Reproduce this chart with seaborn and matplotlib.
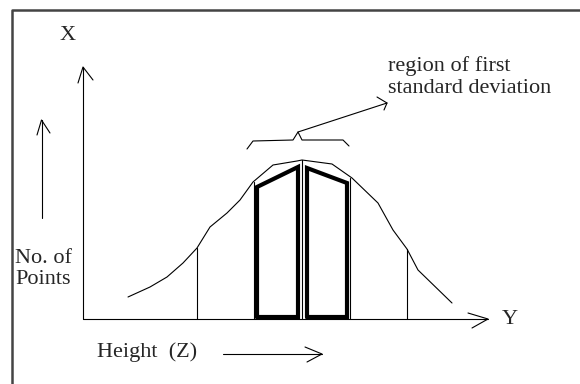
import matplotlib
matplotlib.use("Agg")
import matplotlib.pyplot as plt
import seaborn as sns

# ---- data (diagram coordinates, pixels) ----
curve_x = [128, 150, 167, 183, 197, 210, 227, 240, 253, 273, 297, 302, 332, 352, 378, 393, 407, 418, 452]
curve_y = [297, 287, 277, 263, 248, 227, 213, 200, 182, 165, 161, 160, 164, 178, 203, 230, 249, 270, 303]

drop_x = [197, 254, 302, 350, 407]
drop_top = [248, 182, 160, 178, 249]
axis_base = 319

left_bar_x = [257, 257, 298, 298, 257]
left_bar_y = [317, 187, 167, 317, 317]
right_bar_x = [307, 307, 347, 347, 307]
right_bar_y = [317, 168, 183, 317, 317]

brace_x = [247, 253, 293, 298, 302, 343, 349]
brace_y = [149, 141, 140, 132, 140, 140, 146]

labels = {
    "X": (68, 36),
    "Y": (510, 319),
    "No. of\nPoints": (15, 269),
    "Height  (Z)": (97, 352),
    "region of first\nstandard deviation": (388, 77),
}

sns.set_style("white")
plt.rcParams["font.family"] = ["Liberation Serif", "DejaVu Serif"]

fig = plt.figure(figsize=(5.8, 3.84), dpi=100)
ax = fig.add_axes([0, 0, 1, 1])
ax.set_xlim(0, 580)
ax.set_ylim(384, 0)
ax.axis("off")

thin = dict(color="black", linewidth=0.8)

# frame (top and left only)
ax.plot([12, 12, 580], [384, 9.5, 9.5], color="#444444", linewidth=1.8, solid_capstyle="butt")

# bell curve
sns.lineplot(x=curve_x, y=curve_y, sort=False, estimator=None, ax=ax, **thin)

# drop lines
for xv, yt in zip(drop_x, drop_top):
    ax.plot([xv, xv], [yt, axis_base], **thin)

# thick bars
for bx, by in [(left_bar_x, left_bar_y), (right_bar_x, right_bar_y)]:
    sns.lineplot(x=bx, y=by, sort=False, estimator=None, ax=ax,
                 color="black", linewidth=3.0, solid_joinstyle="miter")

# axes of the diagram
ax.plot([83, 83], [67, axis_base], **thin)
ax.plot([78, 83, 93], [83, 67, 80], **thin)
ax.plot([83, 488], [axis_base, axis_base], **thin)
ax.plot([468, 488, 472], [313, 319, 328], **thin)

# left up arrow
ax.plot([41.5, 41.5], [218, 120], **thin)
ax.plot([37, 41.5, 50], [135, 120, 133], **thin)

# bottom right arrow
ax.plot([223, 322], [354, 354], **thin)
ax.plot([305, 322, 307], [347, 354, 362], **thin)

# brace and pointer arrow
ax.plot(brace_x, brace_y, **thin)
ax.plot([298, 387], [132, 103], **thin)
ax.plot([377, 387, 384], [97, 103, 110], **thin)

# texts
fs = 16
ax.text(*labels["X"], "X", ha="center", va="center", fontsize=fs)
ax.text(*labels["Y"], "Y", ha="center", va="center", fontsize=fs)
ax.text(*labels["No. of\nPoints"], "No. of\nPoints", ha="left", va="center",
        fontsize=fs, linespacing=1.2)
ax.text(*labels["Height  (Z)"], "Height  (Z)", ha="left", va="center", fontsize=fs)
ax.text(*labels["region of first\nstandard deviation"], "region of first\nstandard deviation",
        ha="left", va="center", fontsize=fs, linespacing=1.15)

fig.savefig("out.png", dpi=100)
